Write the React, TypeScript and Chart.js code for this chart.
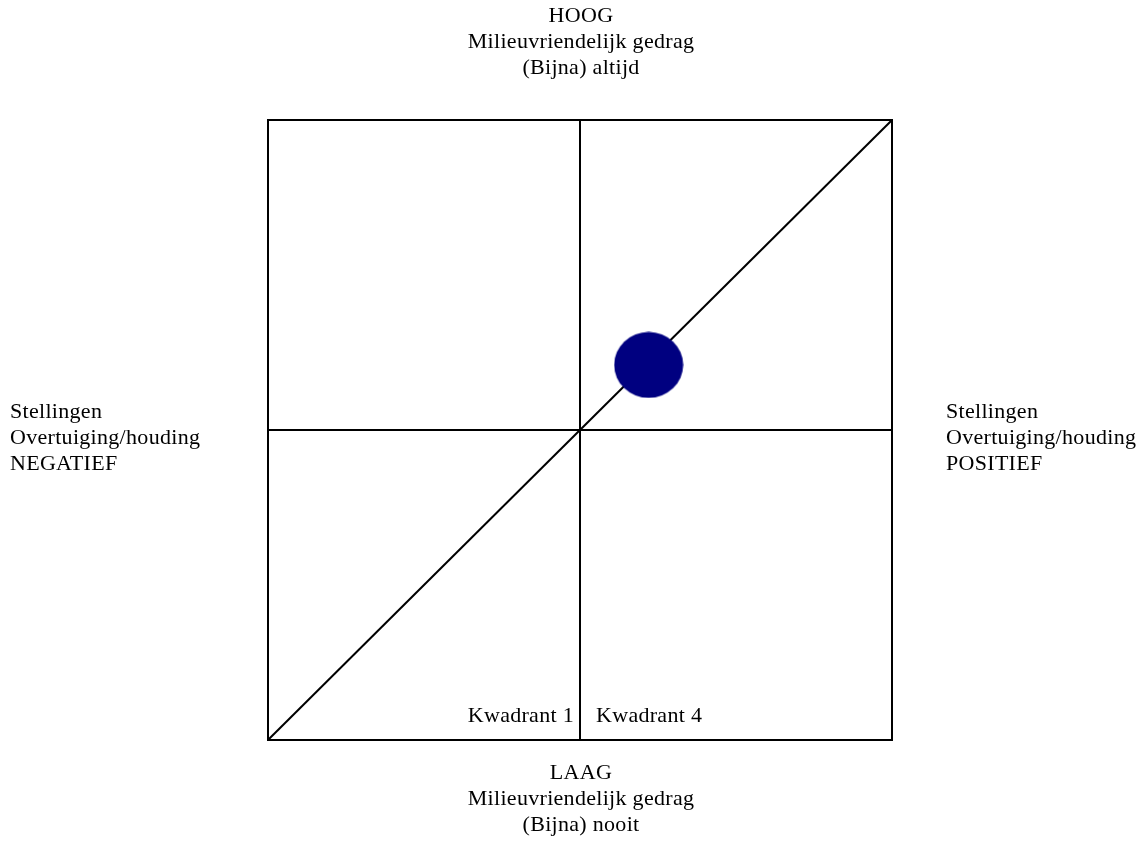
import { useEffect, useRef } from "react";
import { Chart, registerables } from "chart.js";

Chart.register(...registerables);

// Data
const pointX = [0.22];
const pointY = [0.21];
const diagonalX = [-1, 1];
const diagonalY = [-1, 1];
const gridValues = [-1, 0, 1];
const topLabel = ["HOOG", "Milieuvriendelijk gedrag", "(Bijna) altijd"];
const bottomLabel = ["LAAG", "Milieuvriendelijk gedrag", "(Bijna) nooit"];
const leftLabel = ["Stellingen", "Overtuiging/houding", "NEGATIEF"];
const rightLabel = ["Stellingen", "Overtuiging/houding", "POSITIEF"];
const quadrantLabels = ["Kwadrant 1", "Kwadrant 4"];

const FONT = '22px "Liberation Serif", "Times New Roman", serif';

function makeEllipse(): HTMLCanvasElement {
  const c = document.createElement("canvas");
  c.width = 70;
  c.height = 67;
  const ctx = c.getContext("2d")!;
  ctx.fillStyle = "#000080";
  ctx.beginPath();
  ctx.ellipse(35, 33.5, 34.5, 33, 0, 0, Math.PI * 2);
  ctx.fill();
  return c;
}

const framePlugin = {
  id: "quadrantFrame",
  beforeDatasetsDraw(chart: any) {
    const ctx = chart.ctx;
    const xs = chart.scales.x;
    const ys = chart.scales.y;
    ctx.save();
    ctx.strokeStyle = "#000";
    ctx.lineWidth = 2;
    const top = ys.getPixelForValue(1);
    const bottom = ys.getPixelForValue(-1);
    const left = xs.getPixelForValue(-1);
    const right = xs.getPixelForValue(1);
    gridValues.forEach((v) => {
      const px = xs.getPixelForValue(v);
      ctx.beginPath();
      ctx.moveTo(px, top - 1);
      ctx.lineTo(px, bottom + 1);
      ctx.stroke();
      const py = ys.getPixelForValue(v);
      ctx.beginPath();
      ctx.moveTo(left - 1, py);
      ctx.lineTo(right + 1, py);
      ctx.stroke();
    });
    ctx.restore();
  },
  afterDraw(chart: any) {
    const ctx = chart.ctx;
    const xs = chart.scales.x;
    const ys = chart.scales.y;
    const cx = xs.getPixelForValue(0);
    const top = ys.getPixelForValue(1);
    const bottom = ys.getPixelForValue(-1);
    const cy = ys.getPixelForValue(0);
    const left = xs.getPixelForValue(-1);
    const right = xs.getPixelForValue(1);
    ctx.save();
    ctx.fillStyle = "#000";
    ctx.font = FONT;
    try { (ctx as any).letterSpacing = "0.3px"; } catch (e) {}
    ctx.textBaseline = "middle";
    const lh = 26;
    ctx.textAlign = "center";
    topLabel.forEach((t, i) => ctx.fillText(t, cx + 1, top - 104 + i * lh));
    bottomLabel.forEach((t, i) => ctx.fillText(t, cx + 1, bottom + 33 + i * lh));
    ctx.textAlign = "left";
    leftLabel.forEach((t, i) => ctx.fillText(t, left - 258, cy - 18 + i * lh));
    rightLabel.forEach((t, i) => ctx.fillText(t, right + 54, cy - 18 + i * lh));
    ctx.textAlign = "right";
    ctx.fillText(quadrantLabels[0], cx - 6, bottom - 24);
    ctx.textAlign = "left";
    ctx.fillText(quadrantLabels[1], cx + 16, bottom - 24);
    ctx.restore();
  },
};

export default function App() {
  const ref = useRef<HTMLCanvasElement | null>(null);
  useEffect(() => {
    document.body.style.margin = "0";
    const canvas = ref.current!;
    const chart = new Chart(canvas, {
      type: "scatter",
      data: {
        datasets: [
          {
            type: "scatter",
            data: pointX.map((x, i) => ({ x, y: pointY[i] })),
            pointStyle: makeEllipse() as any,
            pointRadius: 34,
            backgroundColor: "#000080",
            borderWidth: 0,
          },
          {
            type: "line",
            data: diagonalX.map((x, i) => ({ x, y: diagonalY[i] })),
            borderColor: "#000",
            borderWidth: 2,
            pointRadius: 0,
            showLine: true,
            fill: false,
          } as any,
        ],
      },
      options: {
        responsive: false,
        animation: false,
        events: [],
        layout: { padding: { left: 268, right: 246, top: 120, bottom: 125 } },
        plugins: { legend: { display: false }, tooltip: { enabled: false } },
        scales: {
          x: { type: "linear", min: -1, max: 1, display: false },
          y: { type: "linear", min: -1, max: 1, display: false },
        },
      },
      plugins: [framePlugin],
    });
    return () => chart.destroy();
  }, []);
  return (
    <div style={{ width: 1138, height: 865 }}>
      <canvas ref={ref} width={1138} height={865} style={{ display: "block" }} />
    </div>
  );
}
